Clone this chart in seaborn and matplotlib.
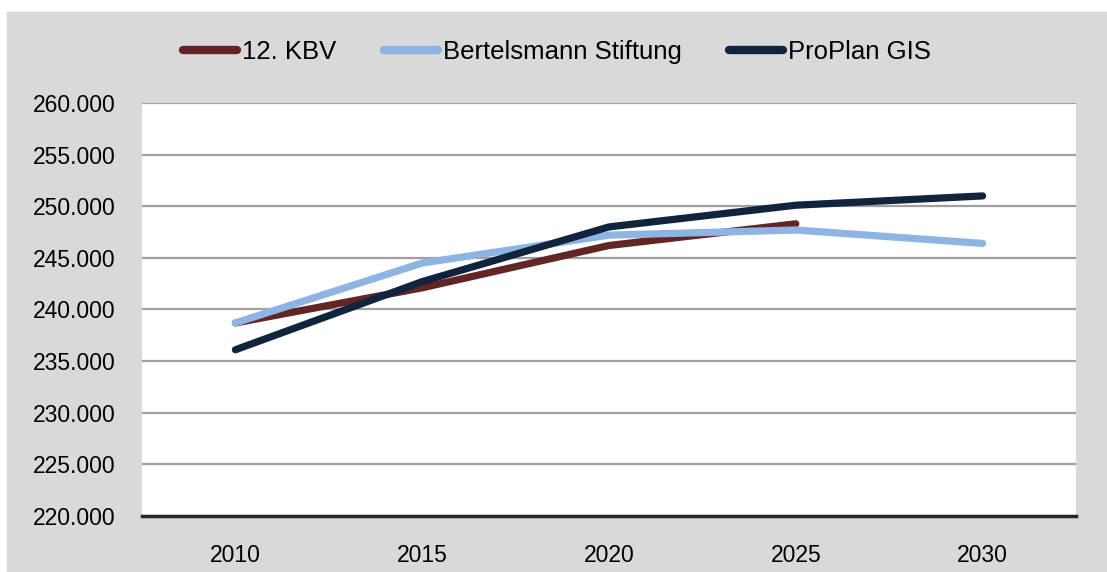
import pandas as pd
import matplotlib.pyplot as plt
import seaborn as sns
from matplotlib.patches import Rectangle

years = ["2010", "2015", "2020", "2025", "2030"]
kbv = [238.7, 242.1, 246.2, 248.3, None]
bertelsmann = [238.7, 244.5, 247.2, 247.7, 246.4]
proplan = [236.1, 242.7, 248.0, 250.1, 251.0]

series_names = ["12. KBV", "Bertelsmann Stiftung", "ProPlan GIS"]
colors = ["#632523", "#8DB4E2", "#10243E"]

df = pd.DataFrame({"Jahr": years, series_names[0]: kbv,
                   series_names[1]: bertelsmann, series_names[2]: proplan})
long = df.melt(id_vars="Jahr", var_name="Quelle", value_name="Wert").dropna()

sns.set_style("white")
plt.rcParams["font.family"] = ["Liberation Sans", "DejaVu Sans"]
plt.rcParams["text.color"] = "black"

fig = plt.figure(figsize=(11.07, 5.72), dpi=100)
bg = Rectangle((7 / 1107, 0), 1100 / 1107, 560 / 572,
               transform=fig.transFigure, color="#D9D9D9", zorder=-10)
fig.add_artist(bg)
ax = fig.add_axes([142 / 1107, 56 / 572, 934 / 1107, 413 / 572])
ax.set_facecolor("white")

sns.lineplot(data=long, x="Jahr", y="Wert", hue="Quelle", hue_order=series_names,
             palette=colors, linewidth=5.2, sort=False, ax=ax,
             solid_capstyle="round")

ax.set_xlim(-0.5, 4.5)
ax.set_ylim(220, 260)
ax.set_yticks(range(220, 261, 5))
ax.set_yticklabels([f"{v}.000" for v in range(220, 261, 5)])
ax.yaxis.grid(True, color="#A0A0A0", linewidth=1.6)
ax.set_axisbelow(True)
for s in ["left", "right", "top"]:
    ax.spines[s].set_visible(False)
ax.spines["bottom"].set_color("#262626")
ax.spines["bottom"].set_linewidth(2.5)
ax.tick_params(axis="both", length=0, labelsize=16.5, colors="black")
ax.tick_params(axis="y", pad=19)
ax.tick_params(axis="x", pad=20)
ax.set_xlabel("")
ax.set_ylabel("")

handles, labels = ax.get_legend_handles_labels()
ax.get_legend().remove()
for h in handles:
    h.set_linewidth(6)
    h.set_solid_capstyle("round")
leg = fig.legend(handles, labels, loc="center", bbox_to_anchor=(557 / 1107, 1 - 52 / 572),
                 ncol=3, frameon=False, fontsize=18.5, handlelength=2.1,
                 handletextpad=0.2, columnspacing=1.85)
for t in leg.get_texts():
    t.set_color("black")

fig.savefig("out.png", dpi=100)
